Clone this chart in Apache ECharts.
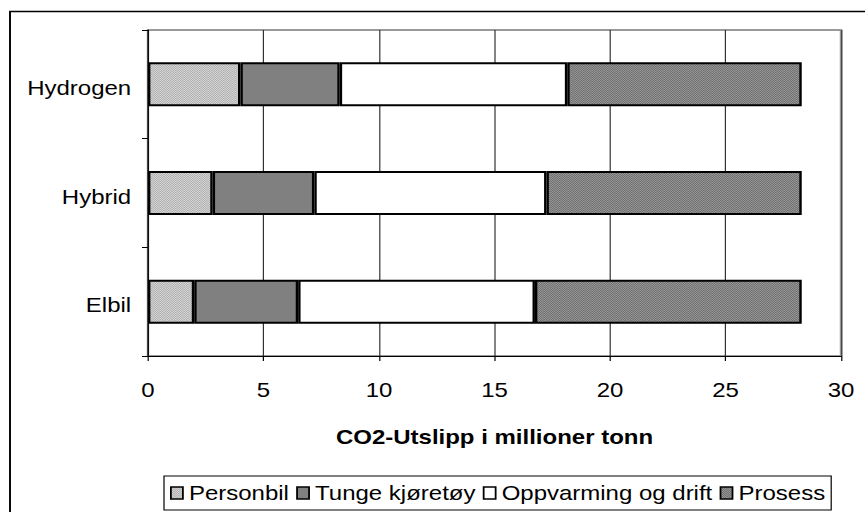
<!DOCTYPE html>
<html>
<head>
<meta charset="utf-8">
<script src="https://cdn.jsdelivr.net/npm/echarts@6/dist/echarts.min.js"></script>
<style>
  html, body { margin: 0; padding: 0; background: #fff; overflow: hidden; }
  #wrap { width: 865px; height: 512px; overflow: hidden; }
  /* the chart is laid out narrower and widened to the page width */
  #chart { width: 721px; height: 512px; transform: scaleX(1.2); transform-origin: 0 0; }
</style>
</head>
<body>
<div id="wrap"><div id="chart"></div></div>
<script>
// CO2 emissions per scenario (million tonnes), split by source
const categories = ['Elbil', 'Hybrid', 'Hydrogen'];
const personbil  = [2.0, 2.8, 4.0];
const tunge      = [4.5, 4.4, 4.3];
const oppvarming = [10.25, 10.05, 9.85];
const prosess    = [11.55, 11.05, 10.15];
const seriesNames = ['Personbil', 'Tunge kjøretøy', 'Oppvarming og drift', 'Prosess'];
const xMin = 0, xMax = 30, xStep = 5;
const axisTitle = 'CO2-Utslipp i millioner tonn';

const SX = 1.2;               // horizontal widening applied by CSS
const W = 721;                // layout width before widening
const px = v => v / SX;       // page x -> layout x

// small dithered fills
function dots(base, dot) {
  const c = document.createElement('canvas');
  c.width = 2; c.height = 2;
  const g = c.getContext('2d');
  g.fillStyle = base; g.fillRect(0, 0, 2, 2);
  g.fillStyle = dot; g.fillRect(0, 0, 1, 1); g.fillRect(1, 1, 1, 1);
  return { image: c, repeat: 'repeat', imageWidth: 2, imageHeight: 2 };
}

const FONT = '"Liberation Sans", Arial, sans-serif';
const fills = [dots('#dcdcdc', '#a9a9a9'), '#808080', '#ffffff', dots('#9c9c9c', '#6a6a6a')];
const values = [personbil, tunge, oppvarming, prosess];

const chart = echarts.init(document.getElementById('chart'), null, { renderer: 'svg' });

const option = {
  animation: false,
  backgroundColor: '#fff',
  textStyle: { fontFamily: FONT, color: '#000' },
  graphic: [{
    type: 'rect', z: -10, silent: true,
    shape: { x: px(10), y: 11.5, width: 2000, height: 2000 },
    style: { fill: 'none', stroke: '#000', lineWidth: 1.6 }
  }],
  grid: {
    left: px(148), right: W - px(841), top: 30, bottom: 512 - 356,
    show: true, borderColor: '#999', borderWidth: 2, backgroundColor: 'transparent',
    outerBoundsMode: 'none', containLabel: false
  },
  legend: {
    data: seriesNames,
    left: px(164), top: 476,
    orient: 'horizontal',
    padding: [7, 5, 7, 5],
    borderColor: '#000', borderWidth: 1,
    icon: 'rect', itemWidth: 10, itemHeight: 12, itemGap: 6,
    selectedMode: false,
    itemStyle: { borderColor: '#000', borderWidth: 1.5 },
    textStyle: { fontFamily: FONT, fontSize: 20, color: '#000' }
  },
  xAxis: {
    type: 'value', min: xMin, max: xMax, interval: xStep,
    name: axisTitle, nameLocation: 'middle', nameGap: 71,
    nameTextStyle: { fontFamily: FONT, fontSize: 20, fontWeight: 'bold', color: '#000' },
    axisLine: { show: true, lineStyle: { color: '#000', width: 1 } },
    axisTick: { show: true, length: 5, lineStyle: { color: '#000' } },
    axisLabel: { margin: 24, fontFamily: FONT, fontSize: 20, color: '#000' },
    splitLine: { show: true, lineStyle: { color: '#333', width: 1 } }
  },
  yAxis: {
    type: 'category', data: categories,
    axisLine: { show: true, lineStyle: { color: '#000', width: 1 } },
    axisTick: { show: true, length: 5, lineStyle: { color: '#000' } },
    axisLabel: {
      margin: 14, verticalAlign: 'top', lineHeight: 8,
      fontFamily: FONT, fontSize: 20, color: '#000'
    },
    splitLine: { show: false }
  },
  series: seriesNames.map((name, i) => ({
    name, type: 'bar', stack: 'total', barWidth: 44,
    data: values[i],
    itemStyle: { color: fills[i], borderColor: '#000', borderWidth: 2 },
    emphasis: { disabled: true }
  }))
};

chart.setOption(option);
</script>
</body>
</html>
